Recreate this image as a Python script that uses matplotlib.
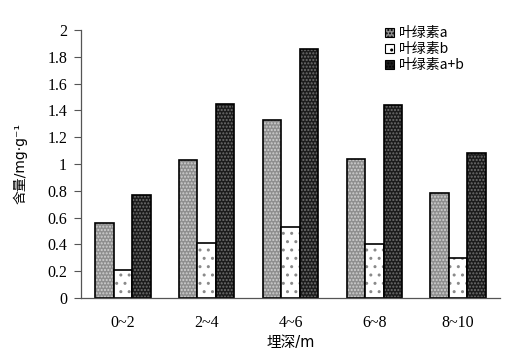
import numpy as np
import matplotlib
matplotlib.use("Agg")
import matplotlib.pyplot as plt
from matplotlib.patches import Patch
from matplotlib.ticker import FormatStrFormatter

plt.rcParams['font.family'] = ['Noto Sans CJK SC', 'DejaVu Sans']
plt.rcParams['hatch.linewidth'] = 1.0

depths = ['0~2', '2~4', '4~6', '6~8', '8~10']
chl_a = [0.56, 1.03, 1.33, 1.04, 0.78]
chl_b = [0.21, 0.41, 0.53, 0.40, 0.30]
chl_ab = [0.77, 1.45, 1.86, 1.44, 1.08]
names = ['叶绿素a', '叶绿素b', '叶绿素a+b']

# face colour, hatch colour, hatch
styles = [('#8e8e8e', '#d0d0d0', '.....'),
          ('#ffffff', '#8a8a8a', '..'),
          ('#1c1c1c', '#707070', '.....')]

fig = plt.figure(figsize=(5.16, 3.6), dpi=100)
ax = fig.add_axes([0.157, 0.172, 0.812, 0.745])

x = np.arange(len(depths))
w = 0.22
for k, vals in enumerate([chl_a, chl_b, chl_ab]):
    fc, hc, h = styles[k]
    pos = x + (k - 1) * w
    ax.bar(pos, vals, w, color=fc, edgecolor=hc, hatch=h, linewidth=0)
    ax.bar(pos, vals, w, fill=False, edgecolor='black', linewidth=1.2)

ax.set_xlim(-0.5, 4.5)
ax.set_ylim(0, 2)
ax.set_yticks(np.arange(0, 2.01, 0.2))
ax.yaxis.set_major_formatter(FormatStrFormatter('%g'))
ax.set_xticks(x)
ax.set_xticklabels(depths)
for lab in ax.get_xticklabels() + ax.get_yticklabels():
    lab.set_family('Liberation Serif')
    lab.set_fontsize(11.5)
ax.tick_params(axis='x', length=0, pad=12)
ax.tick_params(axis='y', length=5, width=0.8, color='#555555', pad=5)
for s in ['top', 'right']:
    ax.spines[s].set_visible(False)
for s in ['left', 'bottom']:
    ax.spines[s].set_color('#555555')
    ax.spines[s].set_linewidth(0.9)

ax.set_ylabel('含量/mg·g⁻¹', fontsize=10, labelpad=14,
              family=['DejaVu Sans', 'Noto Sans CJK SC'])
ax.set_xlabel('埋深/m', fontsize=10.5, labelpad=3,
              family=['DejaVu Sans', 'Noto Sans CJK SC'])

handles = [Patch(facecolor=fc, edgecolor='black', hatch=h, linewidth=0.8)
           for fc, hc, h in styles]
ax.legend(handles, names, loc='upper left', bbox_to_anchor=(0.695, 1.06),
          frameon=False, fontsize=10, handlelength=0.7, handleheight=0.7,
          handletextpad=0.3, labelspacing=0.15)

fig.savefig('out.png', dpi=100)
